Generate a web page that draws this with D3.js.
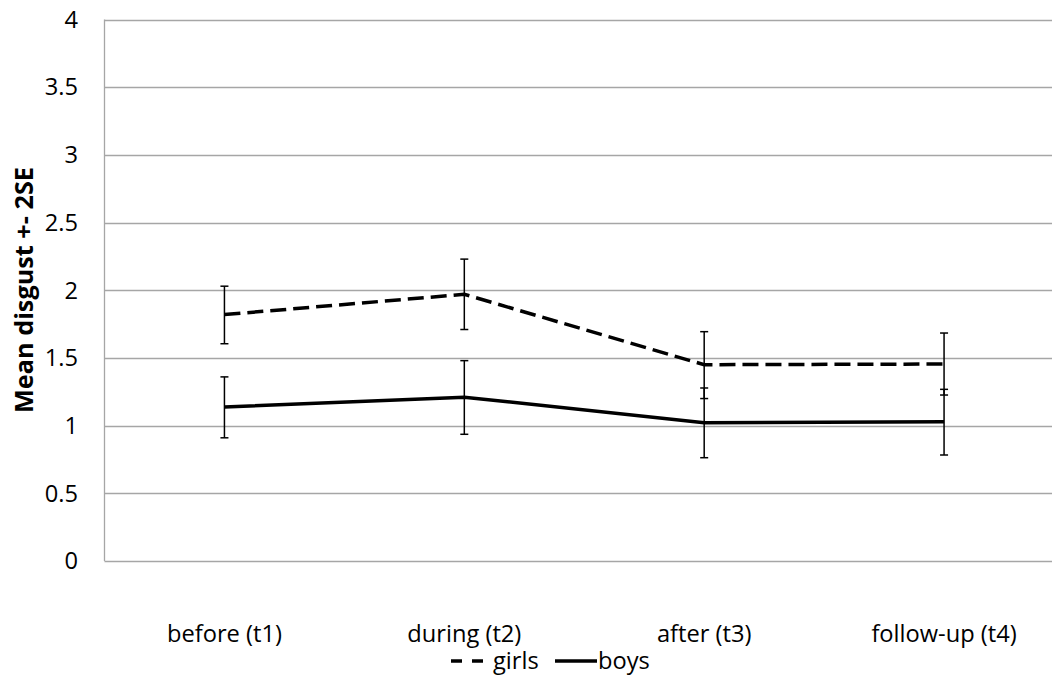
<!DOCTYPE html>
<html>
<head>
<meta charset="utf-8">
<script src="https://cdn.jsdelivr.net/npm/d3@7"></script>
<style>
  body { margin: 0; background: #fff; }
  svg { display: block; font-family: "Open Sans", Lato, sans-serif; fill: #000; }
</style>
</head>
<body>
<svg id="chart" width="1052" height="677"></svg>
<script>
// Chart data
const categories = ['before (t1)', 'during (t2)', 'after (t3)', 'follow-up (t4)'];
const girlsMean = [1.82, 1.97, 1.45, 1.455];
const girlsLow  = [1.605, 1.71, 1.20, 1.226];
const girlsHigh = [2.03, 2.23, 1.694, 1.684];
const boysMean  = [1.137, 1.21, 1.021, 1.029];
const boysLow   = [0.91, 0.936, 0.763, 0.783];
const boysHigh  = [1.36, 1.48, 1.278, 1.268];
const yTicks = [0, 0.5, 1, 1.5, 2, 2.5, 3, 3.5, 4];

const svg = d3.select('#chart');
// Plot area (window.top is reserved, so use other names)
const plotLeft = 104.5, plotRight = 1064, plotTop = 19.5, plotBottom = 561;

// Pick a font size so a sample string has the width it has in the original (Calibri isn't installed)
function fitSize(str, width, weight) {
    const t = svg.append('text').attr('font-size', 20).attr('font-weight', weight).text(str);
    const w = t.node().getComputedTextLength();
    t.remove();
    return 20 * width / w;
}
const fontSize = Math.min(24, fitSize('before (t1)', 115, 'normal'));
const titleSize = fitSize('Mean disgust +- 2SE', 246, 'bold');

// Scales
const x = d3.scalePoint().domain(categories).range([plotLeft, plotRight]).padding(0.5);
const y = d3.scaleLinear().domain([0, 4]).range([plotBottom, plotTop]);

// Gridlines
svg.append('g')
    .selectAll('line')
    .data(yTicks)
    .join('line')
    .attr('x1', plotLeft).attr('x2', plotRight)
    .attr('y1', d => Math.round(y(d)) + 0.5).attr('y2', d => Math.round(y(d)) + 0.5)
    .attr('stroke', '#a6a6a6').attr('stroke-width', 1.3);

// Left axis line
svg.append('line')
    .attr('x1', plotLeft).attr('x2', plotLeft)
    .attr('y1', plotTop).attr('y2', plotBottom)
    .attr('stroke', '#a6a6a6').attr('stroke-width', 1.3);

// Y tick labels
svg.append('g')
    .selectAll('text')
    .data(yTicks)
    .join('text')
    .attr('x', 78).attr('y', d => y(d))
    .attr('dy', '0.35em')
    .attr('text-anchor', 'end')
    .attr('font-size', fontSize)
    .text(d => d);

// X labels
svg.append('g')
    .selectAll('text')
    .data(categories)
    .join('text')
    .attr('x', d => x(d)).attr('y', 642)
    .attr('text-anchor', 'middle')
    .attr('font-size', fontSize)
    .text(d => d);

// Axis title
svg.append('text')
    .attr('transform', 'translate(33,290) rotate(-90)')
    .attr('text-anchor', 'middle')
    .attr('font-size', titleSize)
    .attr('font-weight', 'bold')
    .text('Mean disgust +- 2SE');

// Series
const series = [
    {name: 'girls', mean: girlsMean, low: girlsLow, high: girlsHigh, dash: '16,7'},
    {name: 'boys', mean: boysMean, low: boysLow, high: boysHigh, dash: null},
];

const line = d3.line()
    .x((d, i) => x(categories[i]))
    .y(d => y(d));

series.forEach(s => {
    svg.append('path')
        .datum(s.mean)
        .attr('d', line)
        .attr('fill', 'none')
        .attr('stroke', '#000')
        .attr('stroke-width', 3.5)
        .attr('stroke-dasharray', s.dash);

    // Error bars
    const g = svg.append('g').attr('stroke', '#000').attr('stroke-width', 1.5);
    categories.forEach((c, i) => {
        const cx = x(c);
        g.append('line').attr('x1', cx).attr('x2', cx).attr('y1', y(s.low[i])).attr('y2', y(s.high[i]));
        g.append('line').attr('x1', cx - 4).attr('x2', cx + 4).attr('y1', y(s.low[i])).attr('y2', y(s.low[i]));
        g.append('line').attr('x1', cx - 4).attr('x2', cx + 4).attr('y1', y(s.high[i])).attr('y2', y(s.high[i]));
    });
});

// Legend
const legend = svg.append('g').attr('transform', 'translate(0,661)');
legend.append('line')
    .attr('x1', 451).attr('x2', 484).attr('y1', 0).attr('y2', 0)
    .attr('stroke', '#000').attr('stroke-width', 3.3).attr('stroke-dasharray', '11,10');
legend.append('text').attr('x', 493).attr('y', 0).attr('dy', '0.35em').attr('font-size', fontSize).text('girls');
legend.append('line')
    .attr('x1', 555).attr('x2', 597).attr('y1', 0).attr('y2', 0)
    .attr('stroke', '#000').attr('stroke-width', 3.3);
legend.append('text').attr('x', 598).attr('y', 0).attr('dy', '0.35em').attr('font-size', fontSize).text('boys');
</script>
</body>
</html>
